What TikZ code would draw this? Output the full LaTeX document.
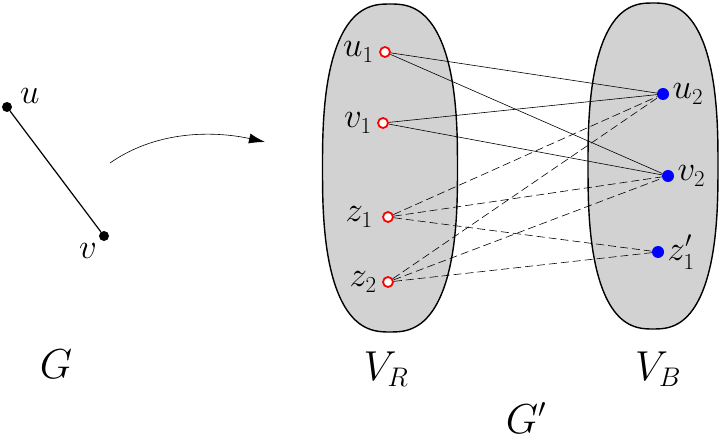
\RequirePackage{fix-cm}
\documentclass[tikz,border=0pt]{standalone}
\usetikzlibrary{arrows.meta}
\DeclareMathSizes{35}{35}{23}{17}
\DeclareMathSizes{42}{42}{27}{20}

\begin{document}
\begin{tikzpicture}[x=1bp,y=-1bp,>=Latex,
 blob/.style={draw,line width=1.4bp,fill=gray!35},
 gvert/.style={circle,fill=black,inner sep=0pt,minimum size=10bp},
 rvert/.style={circle,draw=red,line width=1.8bp,fill=white,inner sep=0pt,minimum size=10bp},
 bvert/.style={circle,fill=blue,inner sep=0pt,minimum size=12bp},
 vlab/.style={font=\fontsize{35}{40}\selectfont},
 big/.style={font=\fontsize{42}{48}\selectfont},
 solidedge/.style={line width=0.6bp},
 dashedge/.style={line width=0.6bp,dash pattern=on 8bp off 4bp}]
\useasboundingbox (0,0) rectangle (721,440);

% the two sides of G' (rounded ovals)
\draw[blob] plot[domain=1:361,samples=73,smooth cycle]
 ({390+67.5*sign(cos(\x))*abs(cos(\x))^0.77},{168+164*sign(sin(\x))*abs(sin(\x))^0.77});
\draw[blob] plot[domain=1:361,samples=73,smooth cycle]
 ({653+65*sign(cos(\x))*abs(cos(\x))^0.77},{166+163*sign(sin(\x))*abs(sin(\x))^0.77});

% G
\node[gvert,label={[vlab,xshift=6bp,yshift=-4bp]above right:$u$}] (u) at (7,107) {};
\node[gvert,label={[vlab]below left:$v$}] (v) at (104,236) {};
\draw[line width=1.2bp] (u) -- (v);

% the map
\coordinate (from) at (110,163);
\coordinate (to) at (265,142);
\draw[->,>={Latex[length=16bp,width=10bp]},line width=0.6bp] (from) .. controls (160,128) and (220,132) .. (to);

% G'
\node[rvert,label={[vlab,label distance=2bp]left:$u_1$}] (u1) at (385,52) {};
\node[rvert,label={[vlab,label distance=2bp]left:$v_1$}] (v1) at (383,123) {};
\node[rvert,label={[vlab,label distance=6bp]left:$z_1$}] (z1) at (388,217) {};
\node[rvert,label={[vlab,label distance=2bp]left:$z_2$}] (z2) at (388,282) {};
\node[bvert,label={[vlab]right:$u_2$}] (u2) at (663,94) {};
\node[bvert,label={[vlab]right:$v_2$}] (v2) at (668,176) {};
\node[bvert,label={[vlab]right:$z'_1$}] (z1b) at (658,252) {};

\draw[solidedge] (u1) -- (u2);
\draw[solidedge] (u1) -- (v2);
\draw[solidedge] (v1) -- (u2);
\draw[solidedge] (v1) -- (v2);
\draw[dashedge] (z1) -- (u2);
\draw[dashedge] (z1) -- (v2);
\draw[dashedge] (z1) -- (z1b);
\draw[dashedge] (z2) -- (u2);
\draw[dashedge] (z2) -- (v2);
\draw[dashedge] (z2) -- (z1b);

\node[big] (gname) at (56,364) {$G$};
\node[big] (vr) at (386,369) {$V_R$};
\node[big] (vb) at (658,369) {$V_B$};
\node[big] (gpname) at (526,418) {$G'$};
\end{tikzpicture}
\end{document}
